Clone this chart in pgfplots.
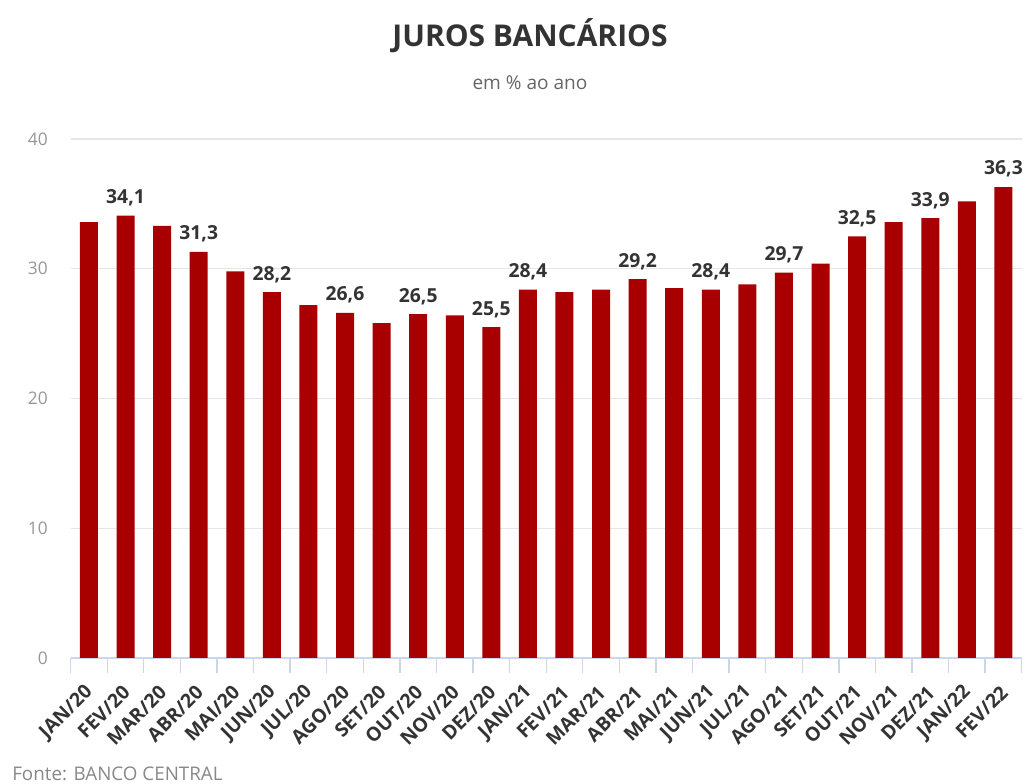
\documentclass[border=0pt]{standalone}
\usepackage{pgfplots}
\pgfplotsset{compat=1.18}
\usepackage{fontspec}
\setmainfont{Open Sans}
\definecolor{barred}{RGB}{168,0,0}
\definecolor{axiscol}{RGB}{204,214,235}
\definecolor{gridcol}{RGB}{230,230,230}
\definecolor{labcol}{RGB}{51,51,51}
\definecolor{ticklab}{RGB}{150,150,150}
\definecolor{subcol}{RGB}{102,102,102}
\definecolor{srccol}{RGB}{136,136,136}
\begin{document}
\begin{tikzpicture}[x=0.75pt,y=0.75pt]
\begin{axis}[
  at={(53.0pt,94.5pt)}, anchor=south west,
  scale only axis, width=713.3pt, height=389.25pt,
  xmin=-0.5, xmax=25.5, ymin=0, ymax=40,
  axis x line*=bottom, axis y line*=left,
  x axis line style={draw=axiscol, line width=1.1pt, -},
  y axis line style={draw=none},
  ytick={0,10,20,30,40},
  ymajorgrids, grid style={draw=gridcol, line width=1pt},
  yticklabel style={font=\fontsize{13}{15}\selectfont, text=ticklab, anchor=east, inner sep=0pt, xshift=-17pt},
  /pgf/number format/assume math mode=true,
  xtick={0,...,25},
  xticklabels={JAN/20,FEV/20,MAR/20,ABR/20,MAI/20,JUN/20,JUL/20,AGO/20,SET/20,OUT/20,NOV/20,DEZ/20,JAN/21,FEV/21,MAR/21,ABR/21,MAI/21,JUN/21,JUL/21,AGO/21,SET/21,OUT/21,NOV/21,DEZ/21,JAN/22,FEV/22},
  xticklabel style={font=\bfseries\fontsize{14.5}{16}\selectfont, text=labcol, rotate=45, anchor=east, inner sep=0pt, yshift=-17pt, xshift=-16pt},
  major tick length=0pt,
  tick style={draw=axiscol, line width=1pt},
  extra x ticks={-0.5,0.5,...,25.5},
  extra x tick labels={},
  extra x tick style={major tick length=11pt, tick align=outside, xmajorgrids=false, ymajorgrids=false},
  clip=false,
]
\addplot[ybar, bar width=13.5pt, bar shift=0pt, fill=barred, draw=none] coordinates {
(0,33.6) (1,34.1) (2,33.3) (3,31.3) (4,29.8) (5,28.2) (6,27.2) (7,26.6) (8,25.8) (9,26.5)
(10,26.4) (11,25.5) (12,28.4) (13,28.2) (14,28.4) (15,29.2) (16,28.5) (17,28.4) (18,28.8) (19,29.7)
(20,30.4) (21,32.5) (22,33.6) (23,33.9) (24,35.2) (25,36.3)
};
\addplot[ybar, bar width=13.5pt, bar shift=0pt, fill=none, draw=none,
  nodes near coords,
  nodes near coords style={font=\bfseries\fontsize{14.5}{16}\selectfont, text=labcol, anchor=south, inner sep=0pt, yshift=7pt,
    /pgf/number format/.cd, use comma, fixed, fixed zerofill, precision=1, assume math mode=true}
] coordinates {
(1,34.1) (3,31.3) (5,28.2) (7,26.6) (9,26.5) (11,25.5) (12,28.4) (15,29.2) (17,28.4) (19,29.7) (21,32.5) (23,33.9) (25,36.3)
};
\end{axis}
\node[anchor=base, font=\bfseries\fontsize{22.5}{26}\selectfont, text=labcol] at (530,737) {JUROS BANCÁRIOS};
\node[anchor=base, font=\fontsize{14.3}{16}\selectfont, text=subcol] at (530,694) {em \% ao ano};
\node[anchor=base west, inner sep=0pt, font=\fontsize{14.1}{16}\selectfont, text=srccol] at (12,3) {Fonte: BANCO CENTRAL};
\pgfresetboundingbox
\path[use as bounding box] (0,0) rectangle (1034,784);
\end{tikzpicture}
\end{document}
